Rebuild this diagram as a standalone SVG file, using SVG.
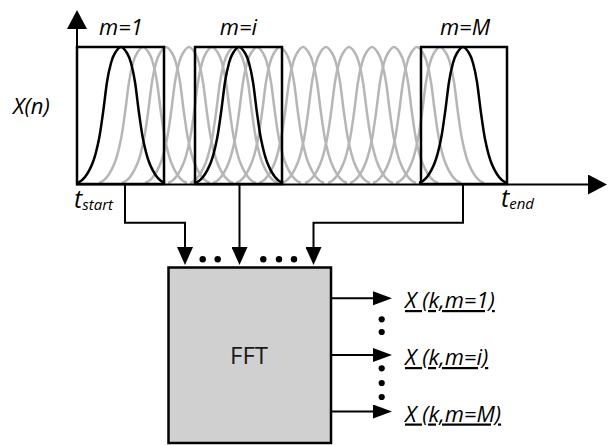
<svg xmlns="http://www.w3.org/2000/svg" xmlns:xlink="http://www.w3.org/1999/xlink" width="609" height="445" viewBox="0 0 609 445">
<style>
.lbl{font-family:"Open Sans","Liberation Sans",sans-serif;font-style:italic;fill:#000}
.out{font-family:"Open Sans","Liberation Sans",sans-serif;font-style:italic;font-size:22px;text-decoration:underline;fill:#000}
.ln{stroke:#000;stroke-width:2;fill:none}
.win{stroke:#000;stroke-width:2.5;fill:none}
.gg{stroke:#b6b6b6;stroke-width:2.5;fill:none}
.bg{stroke:#000;stroke-width:2.5;fill:none}
</style>
<defs>
<path id="g" d="M-44,-1 C-41.33,-1.8 -38.67,-3.53 -36,-7 C-33.33,-10.47 -30.67,-15.07 -28,-22 C-26,-27.2 -24,-35.2 -22,-45 C-20.67,-51.53 -19.33,-61.67 -18,-71 C-16.67,-80.33 -15.33,-93.6 -14,-102 C-12.67,-110.4 -11.33,-116.2 -10,-121 C-8.67,-125.8 -7.33,-128.87 -6,-131 C-4,-134.2 -2,-137 0,-137 C2,-137 4,-134.2 6,-131 C7.33,-128.87 8.67,-125.8 10,-121 C11.33,-116.2 12.67,-110.4 14,-102 C15.33,-93.6 16.67,-80.33 18,-71 C19.33,-61.67 20.67,-51.53 22,-45 C24,-35.2 26,-27.2 28,-22 C30.67,-15.07 33.33,-10.47 36,-7 C38.67,-3.53 41.33,-1.8 44,-1"/>
<marker id="arr" markerUnits="userSpaceOnUse" markerWidth="18" markerHeight="16" refX="12" refY="8" orient="auto"><path d="M0,0 L18,8 L0,16 z" fill="#000"/></marker>
<marker id="arro" markerUnits="userSpaceOnUse" markerWidth="19" markerHeight="14" refX="13" refY="7" orient="auto"><path d="M0,0 L19,7 L0,14 z" fill="#000"/></marker>
<marker id="ax" markerUnits="userSpaceOnUse" markerWidth="19" markerHeight="20" refX="13" refY="10" orient="auto"><path d="M0,0 L19,10 L0,20 z" fill="#000"/></marker>
</defs>

<g id="signal">
<g id="gray-windows" class="gg">
<use xlink:href="#g" href="#g" x="143" y="184"/>
<use xlink:href="#g" href="#g" x="166" y="184"/>
<use xlink:href="#g" href="#g" x="189" y="184"/>
<use xlink:href="#g" href="#g" x="212" y="184"/>
<use xlink:href="#g" href="#g" x="234" y="184"/>
<use xlink:href="#g" href="#g" x="257" y="184"/>
<use xlink:href="#g" href="#g" x="280" y="184"/>
<use xlink:href="#g" href="#g" x="303" y="184"/>
<use xlink:href="#g" href="#g" x="326" y="184"/>
<use xlink:href="#g" href="#g" x="349" y="184"/>
<use xlink:href="#g" href="#g" x="372" y="184"/>
<use xlink:href="#g" href="#g" x="394" y="184"/>
<use xlink:href="#g" href="#g" x="417" y="184"/>
<use xlink:href="#g" href="#g" x="440" y="184"/>
</g>
<g id="win-1">
<rect class="win" x="77" y="47" width="87" height="137"/>
<use class="bg" xlink:href="#g" href="#g" x="121" y="184"/>
<text class="lbl" x="121" y="35" font-size="22" text-anchor="middle">m=1</text>
</g>
<g id="win-i">
<rect class="win" x="195" y="47" width="87" height="137"/>
<use class="bg" xlink:href="#g" href="#g" x="239" y="184"/>
<text class="lbl" x="238.5" y="35" font-size="22" text-anchor="middle">m=i</text>
</g>
<g id="win-M">
<rect class="win" x="421" y="47" width="86" height="137"/>
<use class="bg" xlink:href="#g" href="#g" x="463" y="184"/>
<text class="lbl" x="465" y="35" font-size="22" text-anchor="middle">m=M</text>
</g>
</g>

<g id="axes">
<line class="ln" x1="77" y1="185" x2="77" y2="16" stroke-width="2.5" marker-end="url(#ax)"/>
<line class="ln" x1="76" y1="184.5" x2="601" y2="184.5" stroke-width="2.5" marker-end="url(#ax)"/>
<text class="lbl" x="13" y="114" font-size="22">X(n)</text>
<text class="lbl" x="74" y="208" font-size="25">t<tspan font-size="15" dy="2">start</tspan></text>
<text class="lbl" x="501" y="207" font-size="25">t<tspan font-size="15" dy="2">end</tspan></text>
</g>

<g id="connectors">
<path class="ln" d="M125,184 V222.7 H185 V259" marker-end="url(#arr)"/>
<path class="ln" d="M239.5,184 V259" marker-end="url(#arr)"/>
<path class="ln" d="M463,184 V222.7 H313.5 V259" marker-end="url(#arr)"/>
<path class="ln" d="M331,298.3 H386" marker-end="url(#arro)"/>
<path class="ln" d="M331,355 H386" marker-end="url(#arro)"/>
<path class="ln" d="M331,411.5 H386" marker-end="url(#arro)"/>
<g fill="#000">
<circle cx="202.7" cy="259.3" r="3.2"/>
<circle cx="217.7" cy="259.3" r="3.2"/>
<circle cx="263.3" cy="259.3" r="3.2"/>
<circle cx="279" cy="259.3" r="3.2"/>
<circle cx="294" cy="259.3" r="3.2"/>
<circle cx="381.7" cy="319.3" r="3.1"/>
<circle cx="381.7" cy="332" r="3.1"/>
<circle cx="381.7" cy="368.3" r="3.1"/>
<circle cx="381.7" cy="383" r="3.1"/>
<circle cx="381.7" cy="397" r="3.1"/>
</g>
</g>

<g id="fft">
<rect x="168.5" y="267.5" width="162.5" height="175.5" fill="#d0d0d0" stroke="#000" stroke-width="2.5"/>
<text x="249" y="364" font-family="'Open Sans','Liberation Sans',sans-serif" font-size="24" text-anchor="middle" fill="#1a1a1a">FFT</text>
</g>

<g id="outputs">
<text class="out" x="405" y="308">X (k,m=1)</text>
<text class="out" x="405" y="365">X (k,m=i)</text>
<text class="out" x="405" y="421.5">X (k,m=M)</text>
</g>
</svg>
